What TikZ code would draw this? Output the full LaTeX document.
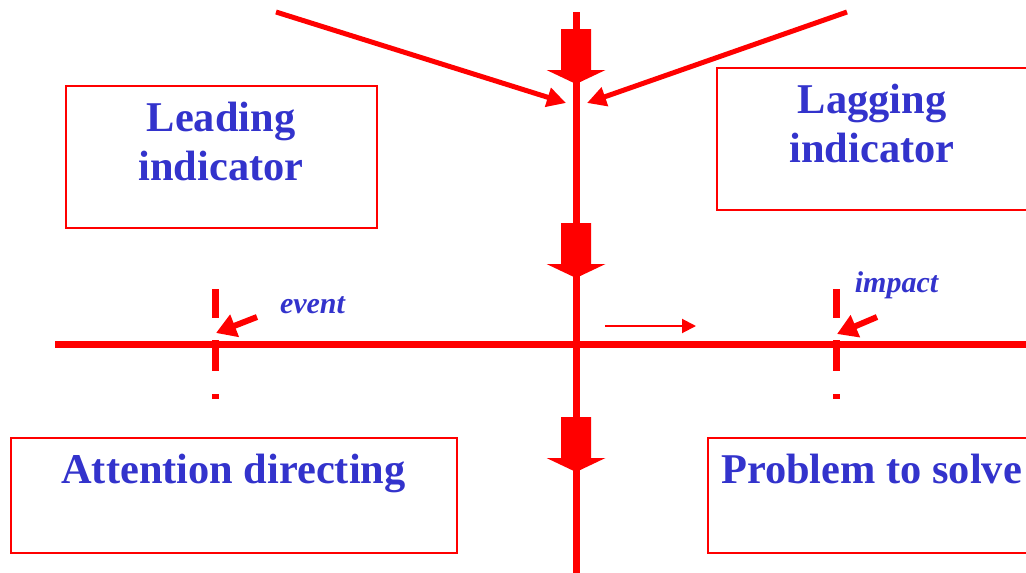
\documentclass[tikz,border=0pt]{standalone}
\usepackage{fontspec}
\setmainfont{Liberation Serif}
\usetikzlibrary{arrows.meta}
\definecolor{tblue}{RGB}{51,51,204}
\definecolor{tred}{RGB}{255,0,0}
\tikzset{
  box/.style={draw=tred, line width=2pt, inner sep=0pt, anchor=north west},
  bigtext/.style={text=tblue, font=\fontsize{42.4}{50}\selectfont\bfseries, anchor=base, inner sep=0pt},
  smalltext/.style={text=tblue, font=\fontsize{30}{34}\selectfont\bfseries\itshape, anchor=base, inner sep=0pt},
  thickred/.style={draw=tred, line width=7pt},
  diagarrow/.style={draw=tred, line width=5pt, -{Triangle[length=19pt,width=19pt]}},
  markarrow/.style={draw=tred, line width=6pt, -{Triangle[length=20pt,width=23pt]}},
  thinarrow/.style={draw=tred, line width=2pt, -{Triangle[length=14pt,width=14pt]}},
  tick/.style={draw=tred, line width=7pt},
  blockarrow/.pic={
    \fill[tred] (-15,0) -- (15,0) -- (15,41) -- (29.5,41) -- (0,55) -- (-29.5,41) -- (-15,41) -- cycle;
  }
}
\begin{document}
\begin{tikzpicture}[x=1pt,y=-1pt]
\useasboundingbox (0,0) rectangle (1026,573);
% boxes
\node[box, minimum width=311pt, minimum height=142pt] (leadbox) at (65,85) {};
\node[box, minimum width=330pt, minimum height=142pt] (lagbox) at (716,67) {};
\node[box, minimum width=446pt, minimum height=115pt] (attbox) at (10,437) {};
\node[box, minimum width=340pt, minimum height=115pt] (probbox) at (707,437) {};
% texts
\node[bigtext] (lead1) at (221,131) {Leading};
\node[bigtext] (lead2) at (221,180) {indicator};
\node[bigtext] (lag1) at (872,113) {Lagging};
\node[bigtext] (lag2) at (872,162) {indicator};
\node[bigtext] (att) at (233.5,483) {Attention directing};
\node[bigtext] (prob) at (871.5,483) {Problem to solve};
\node[smalltext] (event) at (312.5,313) {event};
\node[smalltext] (impact) at (896.5,292) {impact};
% coordinates
\coordinate (vtop) at (576,12);
\coordinate (vbot) at (576,580);
\coordinate (hleft) at (55,344);
\coordinate (hright) at (1030,344);
\coordinate (ltail) at (276,12);
\coordinate (ltip) at (566,103);
\coordinate (rtail) at (847,12);
\coordinate (rtip) at (587,103);
\coordinate (etail) at (257,317);
\coordinate (etip) at (216,333);
\coordinate (itail) at (877,317);
\coordinate (itip) at (837,334);
\coordinate (stail) at (605,326);
\coordinate (stip) at (696,326);
% main lines
\draw[thickred] (vtop) -- (vbot);
\draw[thickred] (hleft) -- (hright);
% block arrows
\pic at (576,29) {blockarrow};
\pic at (576,223) {blockarrow};
\pic at (576,417) {blockarrow};
% diagonal arrows
\draw[diagarrow] (ltail) -- (ltip);
\draw[diagarrow] (rtail) -- (rtip);
% ticks
\foreach \xx in {215.5,836.5} {
  \draw[tick] (\xx,289) -- (\xx,318);
  \draw[tick] (\xx,340) -- (\xx,371);
  \draw[tick] (\xx,394) -- (\xx,399);
}
% marker arrows
\draw[markarrow] (etail) -- (etip);
\draw[markarrow] (itail) -- (itip);
\draw[thinarrow] (stail) -- (stip);
\end{tikzpicture}
\end{document}
